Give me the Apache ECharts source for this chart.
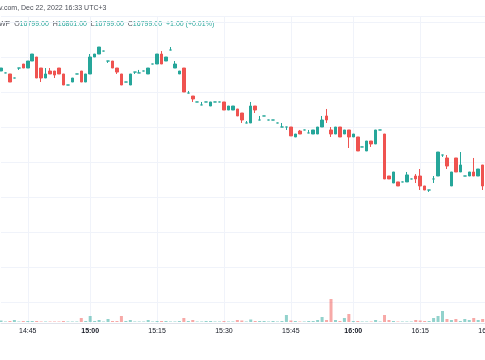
<!DOCTYPE html>
<html><head><meta charset="utf-8">
<script src="https://cdn.jsdelivr.net/npm/echarts@6/dist/echarts.min.js"></script>
<style>html,body{margin:0;padding:0;background:#fff}#c{width:485px;height:360px}</style>
</head><body><div id="c"></div>
<script>
const times = ['14:39','14:40','14:41','14:42','14:43','14:44','14:45','14:46','14:47','14:48','14:49','14:50','14:51','14:52','14:54','14:55','14:56','14:57','14:58','14:59',
'15:00','15:01','15:02','15:03','15:04','15:05','15:06','15:07','15:08','15:09','15:10','15:11','15:12','15:13','15:14',
'15:15','15:16','15:17','15:18','15:19','15:20','15:21','15:22','15:23','15:24','15:25','15:26','15:27','15:28','15:29',
'15:30','15:31','15:32','15:33','15:34','15:35','15:36','15:37','15:38','15:39','15:40','15:41','15:42','15:43','15:44',
'15:45','15:46','15:47','15:48','15:49','15:50','15:51','15:53','15:54','15:55','15:56','15:57','15:58','15:59',
'16:00','16:01','16:02','16:03','16:04','16:05','16:06','16:07','16:08','16:09','16:10','16:11','16:12','16:13','16:14',
'16:15','16:16','16:17','16:18','16:19','16:20','16:21','16:22','16:23','16:24','16:25','16:26','16:27','16:28','16:29','16:30'];
const opens = [16872.0,16870.9,16870.3,16868.0,16873.7,16876.0,16873.7,16877.7,16880.0,16873.7,
16868.0,16872.0,16872.0,16873.7,16870.3,16864.0,16865.7,16870.3,16872.0,16865.7,
16870.3,16880.0,16881.7,16883.4,16877.7,16877.7,16873.7,16870.3,16865.7,16864.0,
16871.4,16870.9,16872.0,16870.3,16876.0,16876.0,16881.7,16877.7,16884.0,16873.7,
16870.3,16873.7,16859.4,16857.7,16854.3,16852.6,16854.3,16852.0,16854.3,16854.3,
16854.3,16849.7,16849.7,16850.3,16848.0,16842.3,16842.3,16852.0,16844.0,16846.3,
16844.0,16844.0,16842.3,16840.0,16840.0,16840.0,16834.3,16837.7,16838.3,16836.6,
16836.0,16836.0,16840.0,16846.3,16838.3,16836.0,16840.0,16836.0,16838.3,16834.3,
16834.3,16828.6,16826.3,16832.0,16830.3,16838.3,16836.0,16812.0,16808.0,16808.6,
16808.6,16808.6,16810.3,16812.0,16812.0,16806.3,16804.0,16810.3,16812.0,16824.0,
16822.3,16806.3,16822.3,16814.3,16812.0,16812.0,16814.3,16812.0,16818.3];
const closes = [16873.7,16870.9,16865.7,16868.0,16873.7,16873.7,16877.7,16881.7,16868.0,16868.0,
16870.3,16870.3,16869.7,16870.3,16864.0,16864.0,16868.0,16870.3,16865.7,16870.3,
16880.0,16881.7,16885.7,16883.4,16877.7,16873.7,16871.4,16864.0,16865.7,16870.3,
16871.4,16870.9,16872.0,16873.7,16876.0,16881.7,16876.0,16880.0,16884.0,16876.0,
16872.0,16860.0,16859.4,16856.0,16854.3,16852.6,16854.3,16854.3,16854.3,16854.3,
16849.7,16852.0,16852.0,16846.3,16844.0,16842.3,16852.0,16849.7,16844.0,16846.3,
16844.0,16844.0,16842.3,16840.0,16840.0,16834.9,16836.0,16836.0,16838.3,16836.6,
16838.3,16840.0,16844.0,16844.0,16836.0,16840.0,16834.3,16838.3,16834.3,16836.0,
16826.3,16828.6,16832.0,16830.3,16838.3,16838.3,16810.3,16810.3,16814.3,16806.3,
16808.6,16812.6,16810.3,16810.3,16806.3,16804.0,16804.0,16810.3,16825.7,16824.0,
16817.7,16814.3,16814.3,16818.3,16812.0,16814.3,16812.0,16816.0,16806.3];
const lows = [16872.0,16870.9,16865.7,16868.0,16872.6,16873.7,16873.7,16877.7,16868.0,16865.7,
16868.0,16870.3,16868.0,16870.3,16864.0,16864.0,16865.7,16870.3,16865.7,16865.7,
16870.3,16880.0,16881.7,16883.4,16876.6,16873.7,16870.3,16864.0,16865.7,16864.0,
16870.3,16870.9,16872.0,16870.3,16876.0,16876.0,16876.0,16877.7,16884.0,16873.7,
16870.3,16860.0,16859.4,16854.3,16854.3,16852.6,16854.3,16852.0,16854.3,16854.3,
16849.7,16849.7,16849.7,16846.3,16842.3,16842.3,16842.3,16848.0,16844.0,16846.3,
16844.0,16844.0,16842.3,16840.0,16838.3,16834.9,16834.3,16836.0,16838.3,16836.6,
16836.0,16836.0,16840.0,16842.3,16834.3,16836.0,16834.3,16836.0,16828.0,16834.3,
16826.3,16828.6,16826.3,16828.6,16830.3,16838.3,16810.3,16810.3,16808.0,16806.3,
16808.6,16808.6,16810.3,16808.0,16804.0,16804.0,16802.9,16808.0,16812.0,16822.9,
16816.0,16806.3,16814.3,16814.3,16812.0,16812.0,16812.0,16812.0,16804.0];
const highs = [16873.7,16870.9,16870.3,16868.0,16873.7,16876.0,16877.7,16881.7,16880.0,16873.7,
16873.7,16873.7,16872.0,16873.7,16870.3,16864.0,16868.0,16870.3,16872.0,16870.3,
16881.7,16881.7,16885.7,16883.4,16877.7,16877.7,16873.7,16870.3,16865.7,16870.3,
16871.4,16872.6,16872.0,16873.7,16876.0,16881.7,16883.4,16880.0,16885.7,16877.7,
16872.0,16873.7,16860.6,16857.7,16854.3,16854.3,16854.3,16854.3,16854.3,16854.3,
16854.3,16852.0,16852.0,16850.3,16848.0,16843.4,16854.3,16852.0,16846.3,16846.3,
16844.0,16844.0,16842.3,16842.3,16840.0,16840.0,16836.0,16838.3,16838.3,16838.3,
16838.3,16840.0,16846.3,16850.3,16840.0,16840.0,16840.0,16838.3,16838.3,16836.0,
16834.3,16828.6,16832.0,16832.0,16838.3,16838.3,16836.0,16812.0,16814.3,16808.6,
16808.6,16814.3,16810.3,16813.1,16816.0,16806.3,16804.0,16812.0,16825.7,16824.0,
16824.0,16814.3,16822.3,16825.7,16812.0,16814.3,16822.3,16816.0,16818.3];
const volumes = [3,1,2,4,1,2,2,2,2,1,
1,1,1,1,2,1,1,1,8,2,
12,2,4,1,6,2,2,12,2,4,
1,1,1,4,1,2,2,2,1,1,
2,8,2,4,1,1,2,2,1,1,
2,1,1,4,3,1,5,2,2,2,
1,2,1,2,14,3,2,1,1,2,
2,4,10,4,46,4,2,8,16,2,
2,1,1,1,4,1,14,4,2,1,
1,1,1,4,3,2,2,8,12,22,
6,4,6,2,6,4,8,4,6];
const tickTimes = ['14:45','15:00','15:15','15:30','15:45','16:00','16:15','16:30'];
const boldTimes = ['15:00','16:00'];

const UP = '#26a69a', DOWN = '#ef5350';
const candleData = opens.map((o, i) => {
  const d = { value: [o, closes[i], lows[i], highs[i]] };
  if (o === closes[i]) d.itemStyle = { color: UP, color0: UP, borderColor: UP, borderColor0: UP };
  return d;
});
const volData = volumes.map((v, i) => ({
  value: v,
  itemStyle: { color: closes[i] >= opens[i] ? 'rgba(38,166,154,0.5)' : 'rgba(239,83,80,0.5)' }
}));
const isTick = (i, v) => tickTimes.indexOf(v !== undefined ? v : times[i]) >= 0;

const chart = echarts.init(document.getElementById('c'), null, { renderer: 'canvas' });
chart.setOption({
  animation: false,
  backgroundColor: '#ffffff',
  textStyle: { fontFamily: 'Liberation Sans' },
  grid: [
    { left: 1, right: -2.1, top: 16, bottom: 37, outerBoundsMode: 'none', containLabel: false },
    { left: 1, right: -2.1, top: 262, bottom: 38, outerBoundsMode: 'none', containLabel: false }
  ],
  xAxis: [
    {
      type: 'category', data: times, boundaryGap: false, gridIndex: 0,
      axisLine: { show: true, lineStyle: { color: '#e0e3eb', width: 1 } },
      axisTick: { show: false },
      axisLabel: {
        interval: (i, v) => isTick(i, v), hideOverlap: false,
        formatter: v => boldTimes.indexOf(v) >= 0 ? '{b|' + v + '}' : v,
        fontSize: 7, color: '#131722', margin: 5, fontFamily: 'Liberation Sans',
        rich: { b: { fontWeight: 'bold', fontSize: 7, color: '#131722', fontFamily: 'Liberation Sans' } }
      },
      splitLine: { show: true, interval: (i, v) => isTick(i, v), lineStyle: { color: '#f0f3fa', width: 1 } }
    },
    {
      type: 'category', data: times, boundaryGap: false, gridIndex: 1, show: false
    }
  ],
  yAxis: [
    {
      type: 'value', gridIndex: 0, min: 16728, max: 16903.43, minInterval: 20, maxInterval: 20, splitNumber: 9,
      position: 'right', axisLabel: { show: false }, axisLine: { show: false }, axisTick: { show: false },
      splitLine: { show: true, lineStyle: { color: '#f0f3fa', width: 1 } }
    },
    { type: 'value', gridIndex: 1, min: 0, max: 120, show: false, splitLine: { show: false } }
  ],
  graphic: [
    { type: 'text', left: -1, top: 5, style: { text: 'v.com, Dec 22, 2022 16:33 UTC+3', fontSize: 7, fill: '#4b4e57', fontFamily: 'Liberation Sans' } },
    { type: 'text', left: -1, top: 21, style: {
        text: '{d|WP}  {d|O}{g|16799.00}  {d|H}{g|16801.00}  {d|L}{g|16799.00}  {d|C}{g|16799.00}  {g|+1.00 (+0.01%)}',
        fontSize: 7, fontFamily: 'Liberation Sans',
        rich: { d: { fill: '#4b4e57', fontSize: 7, fontFamily: 'Liberation Sans' }, g: { fill: UP, fontSize: 7, fontFamily: 'Liberation Sans' } }
      } }
  ],
  series: [
    {
      type: 'candlestick', xAxisIndex: 0, yAxisIndex: 0, data: candleData, barWidth: 3,
      itemStyle: { color: UP, color0: DOWN, borderColor: UP, borderColor0: DOWN, borderWidth: 1 }
    },
    {
      type: 'bar', xAxisIndex: 1, yAxisIndex: 1, data: volData, barWidth: 3
    }
  ]
});
</script>
</body></html>
